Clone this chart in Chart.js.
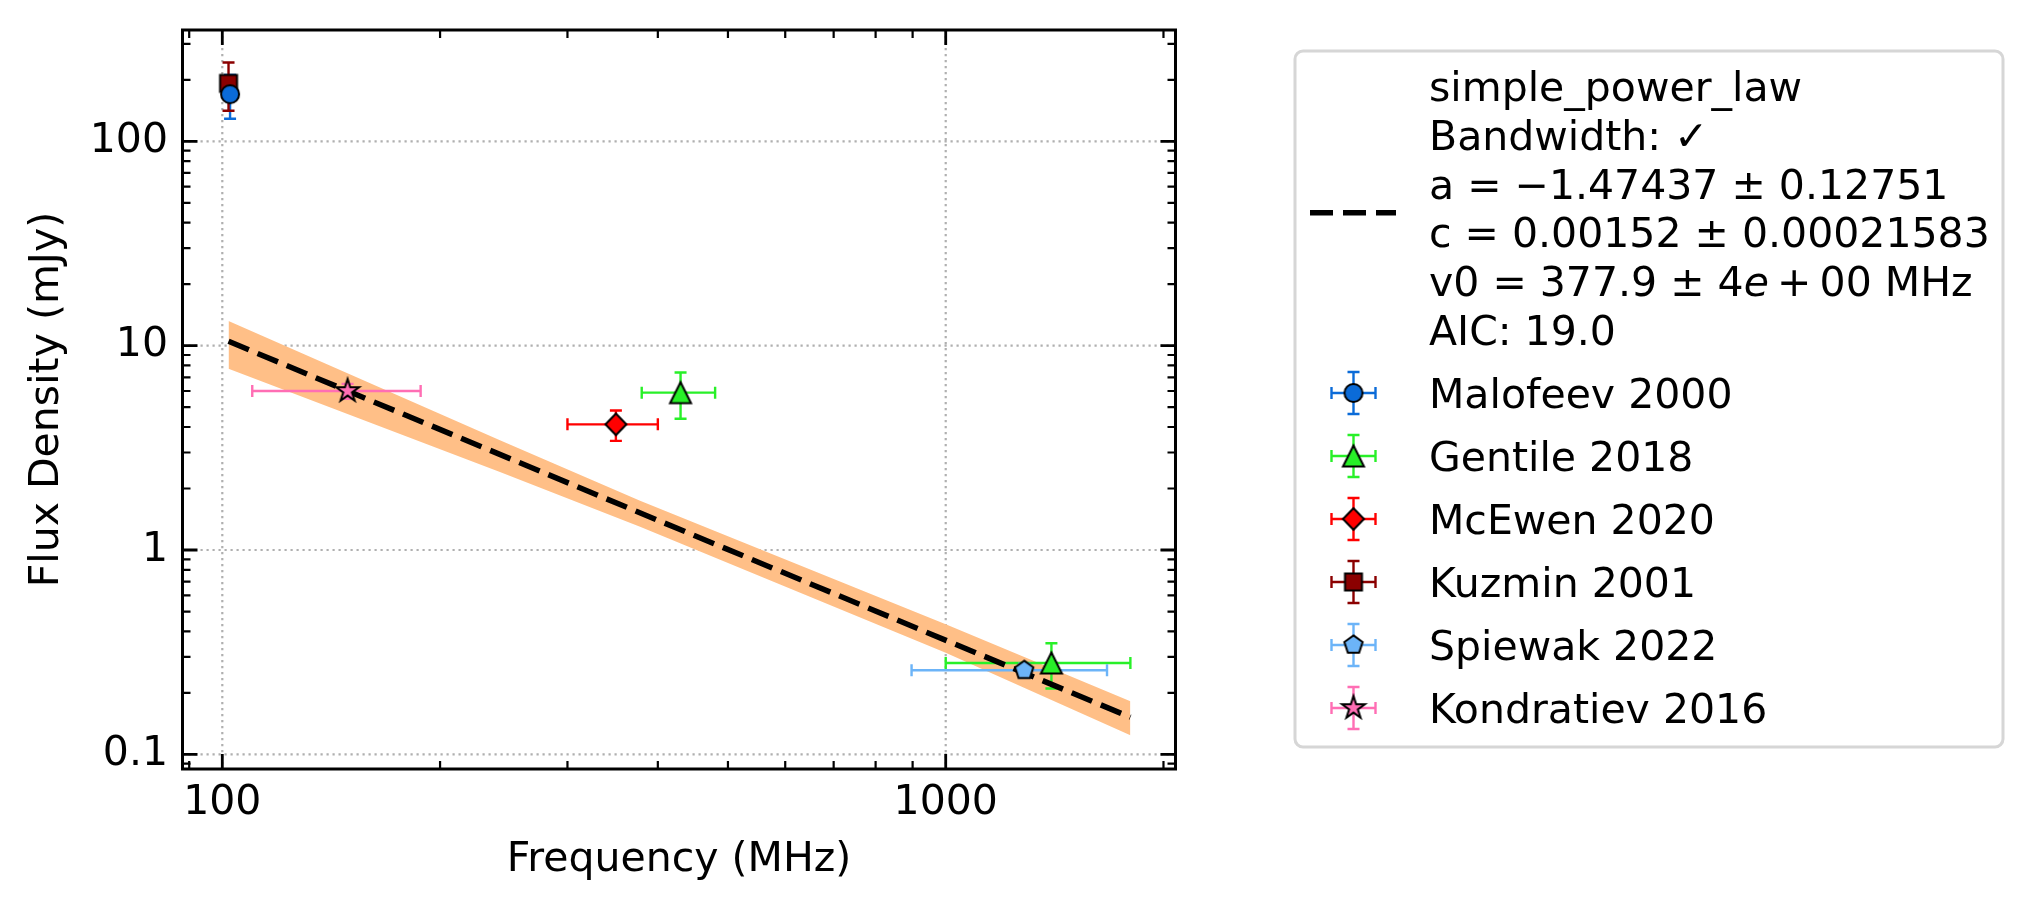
<!DOCTYPE html>
<html>
<head>
<meta charset="utf-8">
<script src="https://cdn.jsdelivr.net/npm/chart.js@4.4.1/dist/chart.umd.min.js"></script>
<style>
  html, body { margin: 0; padding: 0; background: #fff; overflow: hidden; }
  #wrap { position: relative; width: 2032px; height: 914px; }
</style>
</head>
<body>
<div id="wrap"><canvas id="sed" width="2032" height="914"></canvas></div>
<script>
/* ── Data ──────────────────────────────────────────────── */
const xMajorTicks = [100, 1000];
const yMajorTicks = [0.1, 1, 10, 100];

const malofeevFreq = [102.5];
const malofeevFlux = [170];
const malofeevFreqErr = [1];
const malofeevFluxErr = [41];

const gentileFreq = [430, 1400];
const gentileFlux = [5.89, 0.28];
const gentileFreqErr = [50, 400];
const gentileFluxErr = [1.5, 0.07];

const mcewenFreq = [350];
const mcewenFlux = [4.12];
const mcewenFreqErr = [50];
const mcewenFluxErr = [0.7];

const kuzminFreq = [102];
const kuzminFlux = [192];
const kuzminFreqErr = [1];
const kuzminFluxErr = [51];

const spiewakFreq = [1284];
const spiewakFlux = [0.258];
const spiewakFreqErr = [387];
const spiewakFluxErr = [0.02];

const kondratievFreq = [149];
const kondratievFlux = [6.0];
const kondratievFreqErr = [39];
const kondratievFluxErr = [0.5];

// fitted simple power law and its uncertainty band
const fitFreq = [102, 1800];
const fitFlux = [10.5, 0.152];
const bandFreq = [102, 242, 378, 1000, 1800];
const bandLow  = [7.72, 2.41, 1.30, 0.314, 0.124];
const bandHigh = [13.2, 3.44, 1.74, 0.433, 0.182];

const fitLabelLines = [
  'simple_power_law',
  'Bandwidth: \u2713',
  'a = \u22121.47437 \u00b1 0.12751',
  'c = 0.00152 \u00b1 0.00021583',
  'v0 = 377.9 \u00b1 4e\u2009+\u200900 MHz',
  'AIC: 19.0',
];

/* ── Styling ───────────────────────────────────────────── */
const FONT = '"DejaVu Sans", "Liberation Sans", sans-serif';
const FS = 41;
Chart.defaults.font.family = FONT;
Chart.defaults.font.size = FS;
Chart.defaults.color = '#000';

const series = [
  { label: 'Malofeev 2000',   freq: malofeevFreq,   flux: malofeevFlux,   fErr: malofeevFreqErr,   sErr: malofeevFluxErr,   color: '#0b6bd8', shape: 'circle' },
  { label: 'Gentile 2018',    freq: gentileFreq,    flux: gentileFlux,    fErr: gentileFreqErr,    sErr: gentileFluxErr,    color: '#28f028', shape: 'triangle' },
  { label: 'McEwen 2020',     freq: mcewenFreq,     flux: mcewenFlux,     fErr: mcewenFreqErr,     sErr: mcewenFluxErr,     color: '#ff0000', shape: 'diamond' },
  { label: 'Kuzmin 2001',     freq: kuzminFreq,     flux: kuzminFlux,     fErr: kuzminFreqErr,     sErr: kuzminFluxErr,     color: '#8b0000', shape: 'square' },
  { label: 'Spiewak 2022',    freq: spiewakFreq,    flux: spiewakFlux,    fErr: spiewakFreqErr,    sErr: spiewakFluxErr,    color: '#6cb4f8', shape: 'pentagon' },
  { label: 'Kondratiev 2016', freq: kondratievFreq, flux: kondratievFlux, fErr: kondratievFreqErr, sErr: kondratievFluxErr, color: '#ff6eb4', shape: 'star' },
];

/* ── Markers (matplotlib-like shapes) ──────────────────── */
function makeMarker(shape, fill) {
  const c = document.createElement('canvas');
  c.width = 32; c.height = 32;
  const g = c.getContext('2d');
  g.translate(16, 16);
  g.beginPath();
  if (shape === 'circle') {
    g.arc(0, 0, 9, 0, Math.PI * 2);
  } else if (shape === 'triangle') {
    g.moveTo(0, -10.5); g.lineTo(10.5, 10.5); g.lineTo(-10.5, 10.5);
  } else if (shape === 'diamond') {
    g.moveTo(0, -10.8); g.lineTo(10.5, 0); g.lineTo(0, 10.8); g.lineTo(-10.5, 0);
  } else if (shape === 'square') {
    g.rect(-8.5, -8.5, 17, 17);
  } else if (shape === 'pentagon') {
    for (let k = 0; k < 5; k++) {
      const a = -Math.PI / 2 + k * 2 * Math.PI / 5;
      k ? g.lineTo(9.6 * Math.cos(a), 9.6 * Math.sin(a)) : g.moveTo(9.6 * Math.cos(a), 9.6 * Math.sin(a));
    }
  } else if (shape === 'star') {
    for (let k = 0; k < 10; k++) {
      const r = k % 2 ? 12 * 0.381966 : 12;
      const a = -Math.PI / 2 + k * Math.PI / 5;
      k ? g.lineTo(r * Math.cos(a), r * Math.sin(a)) : g.moveTo(r * Math.cos(a), r * Math.sin(a));
    }
  }
  g.closePath();
  g.fillStyle = fill;
  g.fill();
  g.lineWidth = 2;
  g.lineJoin = 'miter';
  g.strokeStyle = '#000';
  g.stroke();
  return c;
}
series.forEach(s => { s.marker = makeMarker(s.shape, s.color); });

/* ── Helpers ───────────────────────────────────────────── */
const pts = (xs, ys) => xs.map((x, i) => ({ x, y: ys[i] }));

function errorCross(ctx, x0, x1, xc, y0, y1, yc, color, cap) {
  ctx.strokeStyle = color;
  ctx.lineWidth = 2.4;
  ctx.lineCap = 'butt';
  ctx.beginPath();
  ctx.moveTo(x0, yc); ctx.lineTo(x1, yc);
  ctx.moveTo(xc, y0); ctx.lineTo(xc, y1);
  ctx.moveTo(x0, yc - cap); ctx.lineTo(x0, yc + cap);
  ctx.moveTo(x1, yc - cap); ctx.lineTo(x1, yc + cap);
  ctx.moveTo(xc - cap, y0); ctx.lineTo(xc + cap, y0);
  ctx.moveTo(xc - cap, y1); ctx.lineTo(xc + cap, y1);
  ctx.stroke();
}

function drawErrorbars(chart) {
  const { ctx, scales: { x, y } } = chart;
  ctx.save();
  series.forEach(s => {
    s.freq.forEach((f, i) => {
      errorCross(ctx,
        x.getPixelForValue(f - s.fErr[i]), x.getPixelForValue(f + s.fErr[i]), x.getPixelForValue(f),
        y.getPixelForValue(s.flux[i] + s.sErr[i]), y.getPixelForValue(s.flux[i] - s.sErr[i]), y.getPixelForValue(s.flux[i]),
        s.color, 6);
    });
  });
  ctx.restore();
}

function minorTicks(scale) {
  const out = [];
  for (let d = 0.01; d <= 10000; d *= 10) {
    for (let k = 2; k <= 9; k++) {
      const v = +(k * d).toPrecision(3);
      if (v > scale.min && v < scale.max) out.push(v);
    }
  }
  return out;
}

// keep Chart.js from reserving extra room for edge labels
function fixPadding(sc) {
  sc.paddingTop = 0; sc.paddingBottom = 0; sc.paddingLeft = 0; sc.paddingRight = 0;
}

/* ── Plugins ───────────────────────────────────────────── */
const axisDecor = {
  id: 'axisDecor',
  beforeDatasetsDraw(chart) {
    const { ctx, chartArea: a, scales: { x, y } } = chart;
    ctx.save();
    ctx.strokeStyle = '#b0b0b0';
    ctx.lineWidth = 2.2;
    ctx.setLineDash([2.2, 3.8]);
    ctx.beginPath();
    xMajorTicks.forEach(v => { const p = x.getPixelForValue(v); ctx.moveTo(p, a.top); ctx.lineTo(p, a.bottom); });
    yMajorTicks.forEach(v => { const p = y.getPixelForValue(v); ctx.moveTo(a.left, p); ctx.lineTo(a.right, p); });
    ctx.stroke();
    ctx.restore();
  },
  beforeDatasetDraw(chart, args) {
    if (args.index === 2) drawErrorbars(chart);
  },
  afterDatasetsDraw(chart) {
    const { ctx, chartArea: a, scales: { x, y } } = chart;
    ctx.save();
    ctx.strokeStyle = '#000';
    const tick = (list, len, w) => {
      ctx.lineWidth = w;
      ctx.beginPath();
      list.forEach(v => {
        const px = x.getPixelForValue(v);
        ctx.moveTo(px, a.bottom); ctx.lineTo(px, a.bottom - len);
        ctx.moveTo(px, a.top); ctx.lineTo(px, a.top + len);
      });
      ctx.stroke();
    };
    const ytick = (list, len, w) => {
      ctx.lineWidth = w;
      ctx.beginPath();
      list.forEach(v => {
        const py = y.getPixelForValue(v);
        ctx.moveTo(a.left, py); ctx.lineTo(a.left + len, py);
        ctx.moveTo(a.right, py); ctx.lineTo(a.right - len, py);
      });
      ctx.stroke();
    };
    tick(xMajorTicks, 15, 2.8);
    tick(minorTicks(x), 8, 2.2);
    ytick(yMajorTicks, 15, 2.8);
    ytick(minorTicks(y), 8, 2.2);
    ctx.lineWidth = 3;
    ctx.strokeRect(a.left, a.top, a.right - a.left, a.bottom - a.top);
    ctx.restore();
  },
  afterDraw(chart) {
    drawLegend(chart.ctx);
  },
};

function drawMathLine(ctx, line, x, y) {
  const m = line.match(/^(.*\d)e(\u2009\+.*)$/);
  ctx.font = `${FS}px ${FONT}`;
  if (!m) { ctx.fillText(line, x, y); return; }
  ctx.fillText(m[1], x, y);
  x += ctx.measureText(m[1]).width;
  ctx.font = `italic ${FS}px ${FONT}`;
  ctx.fillText('e', x, y);
  x += ctx.measureText('e').width;
  ctx.font = `${FS}px ${FONT}`;
  ctx.fillText(m[2], x, y);
}

function drawLegend(ctx) {
  const L = 1295, T = 51, W = 708, H = 696, R = 8;
  ctx.save();
  ctx.beginPath();
  ctx.moveTo(L + R, T);
  ctx.arcTo(L + W, T, L + W, T + H, R);
  ctx.arcTo(L + W, T + H, L, T + H, R);
  ctx.arcTo(L, T + H, L, T, R);
  ctx.arcTo(L, T, L + W, T, R);
  ctx.closePath();
  ctx.fillStyle = 'rgba(255,255,255,0.8)';
  ctx.fill();
  ctx.strokeStyle = '#d6d6d6';
  ctx.lineWidth = 3;
  ctx.stroke();

  // fit handle
  ctx.strokeStyle = '#000';
  ctx.lineWidth = 5.5;
  ctx.setLineDash([23, 10]);
  ctx.beginPath();
  ctx.moveTo(1310, 212.7); ctx.lineTo(1396, 212.7);
  ctx.stroke();
  ctx.setLineDash([]);

  ctx.fillStyle = '#000';
  ctx.textBaseline = 'alphabetic';
  ctx.textAlign = 'left';
  fitLabelLines.forEach((line, i) => drawMathLine(ctx, line, 1429, 101 + 48.8 * i));

  series.forEach((s, i) => {
    const cy = 393 + 63 * i, cx = 1353.5;
    errorCross(ctx, cx - 22, cx + 22, cx, cy - 21, cy + 21, cy, s.color, 6);
    ctx.drawImage(s.marker, cx - 16, cy - 16);
    ctx.fillStyle = '#000';
    ctx.font = `${FS}px ${FONT}`;
    ctx.fillText(s.label, 1429, cy + 14.7);
  });
  ctx.restore();
}

/* ── Chart ─────────────────────────────────────────────── */
const datasets = [
  { type: 'line', data: pts(bandFreq, bandLow), borderWidth: 0, pointRadius: 0, fill: false, order: 3 },
  { type: 'line', data: pts(bandFreq, bandHigh), borderWidth: 0, pointRadius: 0, fill: '-1', backgroundColor: '#ffbf87', order: 3 },
  { type: 'line', data: pts(fitFreq, fitFlux), borderColor: '#000', borderWidth: 5.5, borderDash: [22, 9.5], pointRadius: 0, fill: false, order: 2 },
  ...series.map(s => ({
    type: 'scatter',
    label: s.label,
    data: pts(s.freq, s.flux),
    pointStyle: s.marker,
    pointRadius: 10,
    order: 1,
  })),
];

new Chart(document.getElementById('sed'), {
  type: 'scatter',
  data: { datasets },
  options: {
    responsive: false,
    animation: false,
    devicePixelRatio: 1,
    layout: { padding: { left: 0, right: 856.5, top: 30, bottom: 0 } },
    plugins: { legend: { display: false }, tooltip: { enabled: false } },
    scales: {
      x: {
        type: 'logarithmic',
        min: 88.1, max: 2078,
        afterBuildTicks: sc => { sc.ticks = xMajorTicks.map(v => ({ value: v })); },
        afterFit: sc => { sc.height = 145; fixPadding(sc); },
        ticks: { callback: v => String(v), padding: 10, autoSkip: false, maxRotation: 0, color: '#000' },
        grid: { display: false, drawTicks: false },
        border: { display: false },
        title: { display: true, text: 'Frequency (MHz)', padding: { top: 0, bottom: 28.6 }, color: '#000' },
      },
      y: {
        type: 'logarithmic',
        min: 0.0848, max: 350.5,
        afterBuildTicks: sc => { sc.ticks = yMajorTicks.map(v => ({ value: v })); },
        afterFit: sc => { sc.width = 182.5; fixPadding(sc); },
        ticks: { callback: v => (v < 1 ? String(v) : v.toFixed(0)), padding: 14.5, autoSkip: false, color: '#000' },
        grid: { display: false, drawTicks: false },
        border: { display: false },
        title: { display: true, text: 'Flux Density (mJy)', padding: { top: 23, bottom: 0 }, color: '#000' },
      },
    },
  },
  plugins: [axisDecor],
});
</script>
</body>
</html>
